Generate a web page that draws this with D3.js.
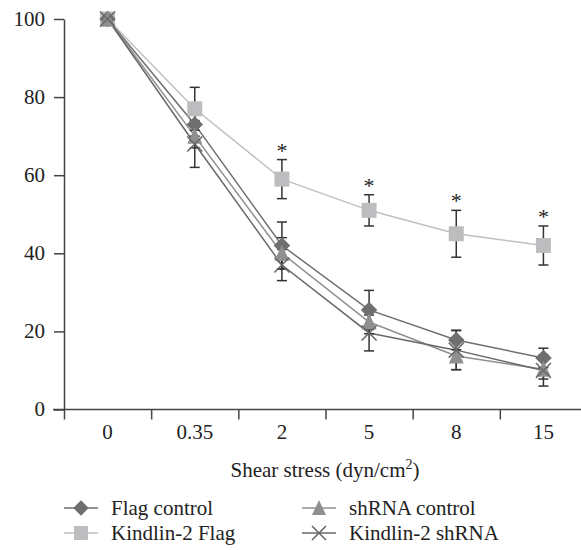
<!DOCTYPE html>
<html lang="en">
<head>
<meta charset="UTF-8">
<title>Shear stress chart</title>
<script src="https://d3js.org/d3.v7.min.js"></script>
<style>
  body { margin: 0; background: #fff; }
</style>
</head>
<body>
<script>
// data
const categories = ["0", "0.35", "2", "5", "8", "15"];
const flagControl = [100, 73, 42, 25.5, 17.8, 13.2];
const flagControlErr = [0, 3, 6, 5, 2.5, 2.5];
const kindlinFlag = [100, 77, 59, 51, 45, 42];
const kindlinFlagErr = [0, 5.5, 5, 4, 6, 5];
const shControl = [100, 70, 40, 22.4, 13.7, 10.3];
const shControlErr = [0, 3, 4, 3, 3.5, 2.5];
const kindlinSh = [100, 68, 37, 19.6, 15.2, 10];
const kindlinShErr = [0, 6, 4, 4.6, 5, 4];
const starred = ["2", "5", "8", "15"];
const yTicks = [0, 20, 40, 60, 80, 100];

const W = 581, H = 550;
const padL = 64, padR = 587, padT = 19, padB = 409.5;
const FONT = '"Liberation Serif"';
const FS = "21px";

const series = [
  { name: "Kindlin-2 Flag", values: kindlinFlag, err: kindlinFlagErr, color: "#bdbdbf", line: "#c0c0c2", marker: "square" },
  { name: "Flag control", values: flagControl, err: flagControlErr, color: "#6f6f6f", line: "#6f6f6f", marker: "diamond" },
  { name: "shRNA control", values: shControl, err: shControlErr, color: "#8f8f8f", line: "#8f8f8f", marker: "triangle" },
  { name: "Kindlin-2 shRNA", values: kindlinSh, err: kindlinShErr, color: "#686868", line: "#686868", marker: "cross" }
];

const svg = d3.select("body").append("svg").attr("width", W).attr("height", H);

const x = d3.scaleBand().domain(categories).range([padL, padR]);
const xEdge = d3.scaleLinear().domain([0, categories.length]).range([padL, padR]);
const y = d3.scaleLinear().domain([0, 100]).range([padB, padT]);

// y axis
const gy = svg.append("g").attr("transform", `translate(${padL},0)`)
  .call(d3.axisLeft(y).tickValues(yTicks).tickSize(10).tickSizeOuter(0).tickPadding(9));
gy.select(".domain").attr("stroke", "#444").attr("stroke-width", 1.5);
gy.selectAll(".tick line").attr("stroke", "#444").attr("stroke-width", 1.5);
gy.selectAll(".tick text").attr("fill", "#222").attr("dy", "0.3em")
  .style("font-family", FONT).style("font-size", FS);

// x axis: ticks at band edges
const gx = svg.append("g").attr("transform", `translate(0,${padB})`)
  .call(d3.axisBottom(xEdge).tickValues(d3.range(categories.length + 1)).tickFormat("").tickSize(10));
gx.select(".domain").remove();
gx.selectAll(".tick line").attr("stroke", "#444").attr("stroke-width", 1.5);
gx.append("line").attr("x1", padL - 11).attr("x2", W).attr("stroke", "#444").attr("stroke-width", 1.5);

const gxl = svg.append("g").attr("transform", `translate(0,${padB})`)
  .call(d3.axisBottom(x).tickSize(0).tickPadding(15));
gxl.select(".domain").remove();
gxl.selectAll(".tick text").attr("fill", "#222")
  .style("font-family", FONT).style("font-size", FS);

// axis title
const title = svg.append("text").attr("x", 325).attr("y", 477)
  .attr("text-anchor", "middle").attr("fill", "#222")
  .style("font-family", FONT).style("font-size", FS);
title.append("tspan").text("Shear stress (dyn/cm");
title.append("tspan").attr("dy", -8).style("font-size", "14px").text("2");
title.append("tspan").attr("dy", 8).text(")");

// marker drawing
function drawMarker(g, type, color, s) {
  if (type === "square") {
    g.append("rect").attr("x", -s / 2).attr("y", -s / 2).attr("width", s).attr("height", s).attr("fill", color);
  } else if (type === "diamond") {
    const h = s * 0.55;
    g.append("path").attr("d", `M0,${-h}L${h},0L0,${h}L${-h},0Z`).attr("fill", color);
  } else if (type === "triangle") {
    const h = s / 2;
    g.append("path").attr("d", `M0,${-h - 1}L${h},${h}L${-h},${h}Z`).attr("fill", color);
  } else {
    const h = s / 2;
    g.append("path").attr("d", `M${-h},${-h}L${h},${h}M${-h},${h}L${h},${-h}`)
      .attr("stroke", color).attr("stroke-width", 1.6).attr("fill", "none");
  }
}

const cx = c => x(c) + x.bandwidth() / 2;
const line = d3.line().x((d, i) => cx(categories[i])).y(d => y(d));

// lines
series.forEach(s => {
  svg.append("path").datum(s.values).attr("d", line)
    .attr("fill", "none").attr("stroke", s.line).attr("stroke-width", 1.5);
});

// error bars
series.forEach(s => {
  s.values.forEach((v, i) => {
    const e = s.err[i];
    if (!e) return;
    const px = cx(categories[i]);
    const g = svg.append("g").attr("stroke", "#333").attr("stroke-width", 1.5);
    g.append("line").attr("x1", px).attr("x2", px).attr("y1", y(v + e)).attr("y2", y(v - e));
    g.append("line").attr("x1", px - 5).attr("x2", px + 5).attr("y1", y(v + e)).attr("y2", y(v + e));
    g.append("line").attr("x1", px - 5).attr("x2", px + 5).attr("y1", y(v - e)).attr("y2", y(v - e));
  });
});

// markers
series.forEach(s => {
  s.values.forEach((v, i) => {
    const g = svg.append("g").attr("transform", `translate(${cx(categories[i])},${y(v)})`);
    drawMarker(g, s.marker, s.color, 15);
  });
});

// significance stars
starred.forEach(c => {
  const i = categories.indexOf(c);
  svg.append("text").attr("x", cx(c)).attr("y", y(kindlinFlag[i] + kindlinFlagErr[i]) - 2)
    .attr("text-anchor", "middle").attr("fill", "#222")
    .style("font-family", FONT).style("font-size", "22px").text("*");
});

// legend
const legendItems = [
  { s: series[1], x: 64, y: 508 },
  { s: series[0], x: 64, y: 533 },
  { s: series[2], x: 302, y: 508 },
  { s: series[3], x: 302, y: 533 }
];
legendItems.forEach(it => {
  const g = svg.append("g").attr("transform", `translate(${it.x},${it.y})`);
  g.append("line").attr("x1", 0).attr("x2", 34).attr("stroke", it.s.line).attr("stroke-width", 1.5);
  const m = g.append("g").attr("transform", "translate(17,0)");
  drawMarker(m, it.s.marker, it.s.color, 14);
  g.append("text").attr("x", 47).attr("y", 0).attr("dy", "0.33em").attr("fill", "#222")
    .style("font-family", FONT).style("font-size", FS).text(it.s.name);
});
</script>
</body>
</html>
